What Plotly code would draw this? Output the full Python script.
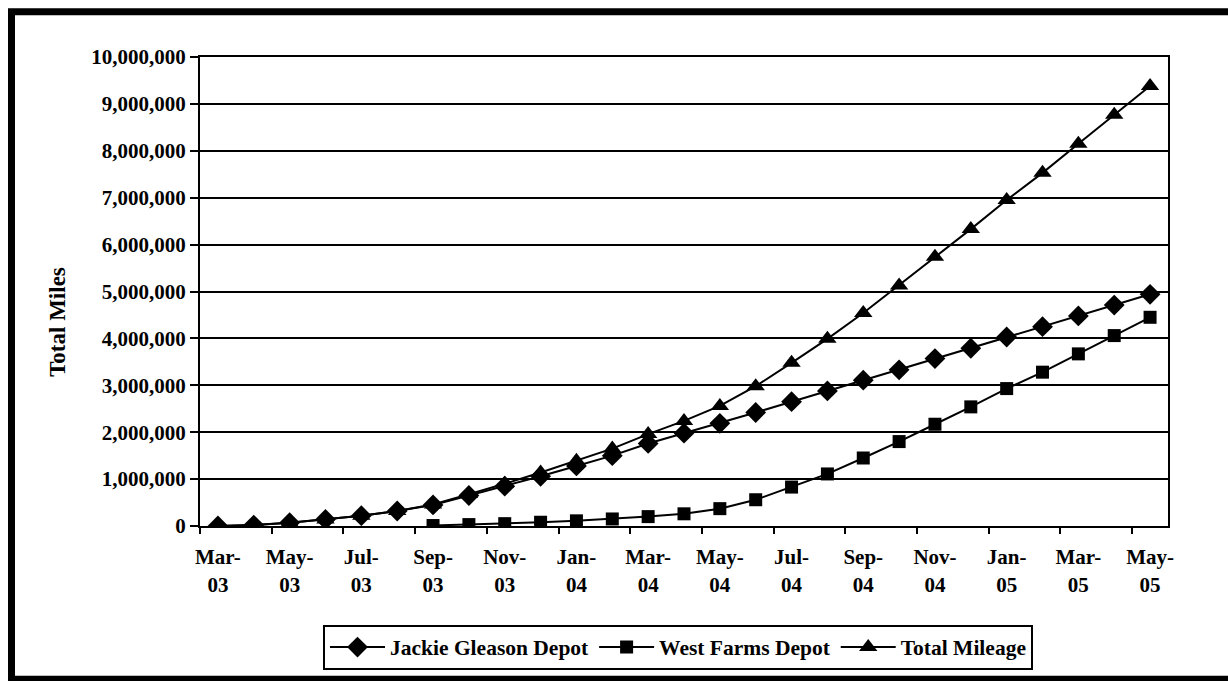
import plotly.graph_objects as go

months = ["Mar-03", "Apr-03", "May-03", "Jun-03", "Jul-03", "Aug-03", "Sep-03", "Oct-03",
          "Nov-03", "Dec-03", "Jan-04", "Feb-04", "Mar-04", "Apr-04", "May-04", "Jun-04",
          "Jul-04", "Aug-04", "Sep-04", "Oct-04", "Nov-04", "Dec-04", "Jan-05", "Feb-05",
          "Mar-05", "Apr-05", "May-05"]

jackie_gleason = [0, 20000, 70000, 140000, 220000, 320000, 450000, 650000, 850000, 1060000,
                  1280000, 1500000, 1760000, 1980000, 2190000, 2420000, 2650000, 2880000,
                  3110000, 3330000, 3570000, 3790000, 4030000, 4250000, 4480000, 4710000, 4940000]

west_farms = [None, None, None, None, None, None, 10000, 30000, 50000, 80000, 110000, 150000,
              200000, 260000, 370000, 560000, 830000, 1110000, 1450000, 1800000, 2170000,
              2540000, 2930000, 3280000, 3670000, 4060000, 4450000]

total_mileage = [0, 20000, 70000, 140000, 220000, 320000, 460000, 680000, 900000, 1140000,
                 1390000, 1650000, 1960000, 2240000, 2560000, 2980000, 3480000, 3990000,
                 4540000, 5130000, 5740000, 6330000, 6950000, 7530000, 8150000, 8770000, 9380000]

tick_labels = [m.replace("-", "-<br>") for m in months]
y_title = "Total Miles"

FONT = "Liberation Serif"
W, H = 1228, 681
L, R, T, B = 200, 60, 57, 153

def px_x(p):
    return (p - L) / (W - L - R)

def px_y(p):
    return (H - B - p) / (H - T - B)

fig = go.Figure()
series = [
    ("Jackie Gleason Depot", jackie_gleason, "diamond", 16),
    ("West Farms Depot", west_farms, "square", 13),
    ("Total Mileage", total_mileage, "triangle-up", 16),
]
xs = list(range(len(months)))
for name, vals, sym, sz in series:
    fig.add_trace(go.Scatter(
        x=xs, y=vals, name=name, mode="lines+markers",
        line=dict(color="black", width=2),
        marker=dict(symbol=sym, size=sz, color="black", line=dict(width=0)),
        connectgaps=False, hoverinfo="skip",
    ))

# invisible trace on secondary x axis to carry boundary tick marks
fig.add_trace(go.Scatter(x=[xs[0]], y=[0], xaxis="x2", mode="markers",
                         marker=dict(opacity=0), showlegend=False, hoverinfo="skip"))

xr = [-0.5, len(months) - 0.5]
fig.update_layout(
    width=W, height=H,
    margin=dict(l=L, r=R, t=T, b=B),
    paper_bgcolor="white", plot_bgcolor="white",
    font=dict(family=FONT, size=21, color="black"),
    showlegend=True,
    legend=dict(orientation="h", x=px_x(323), xanchor="left", y=px_y(627), yanchor="top",
                bordercolor="black", borderwidth=2, bgcolor="white",
                font=dict(family=FONT, size=21.5, color="black", weight="bold"),
                itemwidth=55, tracegroupgap=0),
    xaxis=dict(range=xr, tickmode="array", tickvals=xs[::2], ticktext=tick_labels[::2],
               ticks="", showgrid=False, zeroline=False, ticklabelstandoff=11,
               showline=True, linecolor="black", linewidth=2, mirror=True,
               tickfont=dict(family=FONT, size=21, color="black", weight="bold")),
    xaxis2=dict(range=xr, overlaying="x", side="bottom", anchor="y",
                tickmode="array", tickvals=[i - 0.5 for i in xs[::2]] + [len(months) - 1.5],
                showticklabels=False, ticks="outside", ticklen=7, tickwidth=2,
                tickcolor="black", showgrid=False, zeroline=False, showline=False),
    yaxis=dict(range=[0, 10000000], dtick=1000000, tickformat=",d",
               showgrid=True, gridcolor="black", gridwidth=2,
               zeroline=False, showline=True, linecolor="black", linewidth=2, mirror=True,
               ticks="outside", ticklen=8, tickwidth=2, tickcolor="black",
               tickfont=dict(family=FONT, size=21, color="black", weight="bold")),
)

fig.add_annotation(text=y_title, textangle=-90, xref="paper", yref="paper",
                   x=px_x(58), y=px_y(323), xanchor="center", yanchor="middle",
                   showarrow=False,
                   font=dict(family=FONT, size=23, color="black", weight="bold"))

# outer chart border (partially cropped at right/bottom as in the reference)
fig.add_shape(type="rect", xref="paper", yref="paper",
              x0=px_x(11.5), x1=px_x(1240), y0=px_y(11.5), y1=px_y(682),
              line=dict(color="black", width=7), fillcolor="rgba(0,0,0,0)", layer="above")

fig.write_html("out.html", config={"displayModeBar": False, "staticPlot": True},
               post_script="document.body.style.margin='0';")
